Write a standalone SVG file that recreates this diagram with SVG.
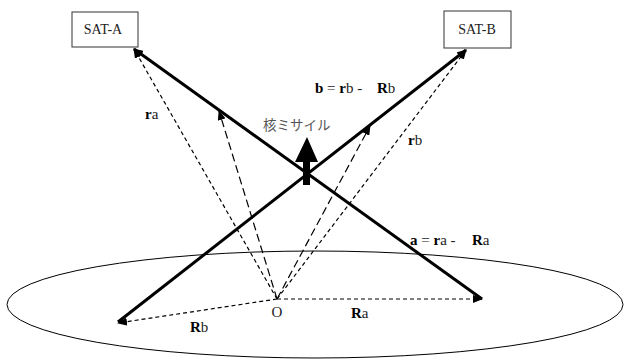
<svg xmlns="http://www.w3.org/2000/svg" width="625" height="361" viewBox="0 0 625 361">
<style>
.box{fill:#fff;stroke:#333;stroke-width:1}
.t{font-family:"Liberation Serif","Times New Roman",serif;font-size:15px;fill:#222}
.s{font-size:14px}
.b{font-weight:bold;fill:#000}
.solid{stroke:#000;stroke-width:3;fill:none}
.sd{stroke:#000;stroke-width:1.2;stroke-dasharray:4,3;fill:none}
.ld{stroke:#000;stroke-width:1.2;stroke-dasharray:8,4;fill:none}
</style>
<defs>
<marker id="ah" markerWidth="10" markerHeight="8" refX="9" refY="4" orient="auto" markerUnits="userSpaceOnUse">
<path d="M0,0 L10,4 L0,8 Z" fill="#000"/>
</marker>
</defs>
<g id="earth">
<ellipse cx="315" cy="304.5" rx="308" ry="53.5" fill="none" stroke="#000" stroke-width="1"/>
</g>
<g id="connectors">
<line class="sd" x1="277" y1="299" x2="134" y2="49" marker-end="url(#ah)"/>
<line class="sd" x1="277" y1="299" x2="466" y2="50" marker-end="url(#ah)"/>
<line class="ld" x1="277" y1="299" x2="219" y2="111" marker-end="url(#ah)"/>
<line class="ld" x1="277" y1="299" x2="370" y2="126" marker-end="url(#ah)"/>
<line class="sd" x1="277" y1="299" x2="118" y2="323" marker-end="url(#ah)"/>
<line class="sd" x1="277" y1="299" x2="482" y2="299" marker-end="url(#ah)"/>
<line class="solid" x1="482" y1="299" x2="134" y2="49" marker-end="url(#ah)"/>
<line class="solid" x1="118" y1="322" x2="466" y2="50" marker-end="url(#ah)"/>
</g>
<g id="missile">
<polygon points="307,137 318,162 310,162 310,185 303,185 303,162 295,162" fill="#000"/>
<text x="263" y="130" font-family="Noto Sans CJK JP, sans-serif" font-size="13.5" fill="#555">核ミサイル</text>
</g>
<g id="sat-a">
<rect class="box" x="72" y="12" width="66" height="35"/>
<text class="t s" x="103" y="34" text-anchor="middle">SAT-A</text>
</g>
<g id="sat-b">
<rect class="box" x="444" y="11" width="67" height="37"/>
<text class="t s" x="477" y="34" text-anchor="middle">SAT-B</text>
</g>
<g id="labels">
<text class="t" x="145" y="119"><tspan class="b">r</tspan>a</text>
<text class="t" x="408" y="145"><tspan class="b">r</tspan>b</text>
<text class="t" x="315" y="93"><tspan class="b">b</tspan> = <tspan class="b">r</tspan>b -<tspan class="b" x="377">R</tspan>b</text>
<text class="t" x="410" y="245"><tspan class="b">a</tspan> = <tspan class="b">r</tspan>a -<tspan class="b" x="472">R</tspan>a</text>
<text class="t" x="190" y="332"><tspan class="b">R</tspan>b</text>
<text class="t" x="351" y="318"><tspan class="b">R</tspan>a</text>
<text class="t" x="277" y="317" text-anchor="middle">O</text>
</g>
</svg>
